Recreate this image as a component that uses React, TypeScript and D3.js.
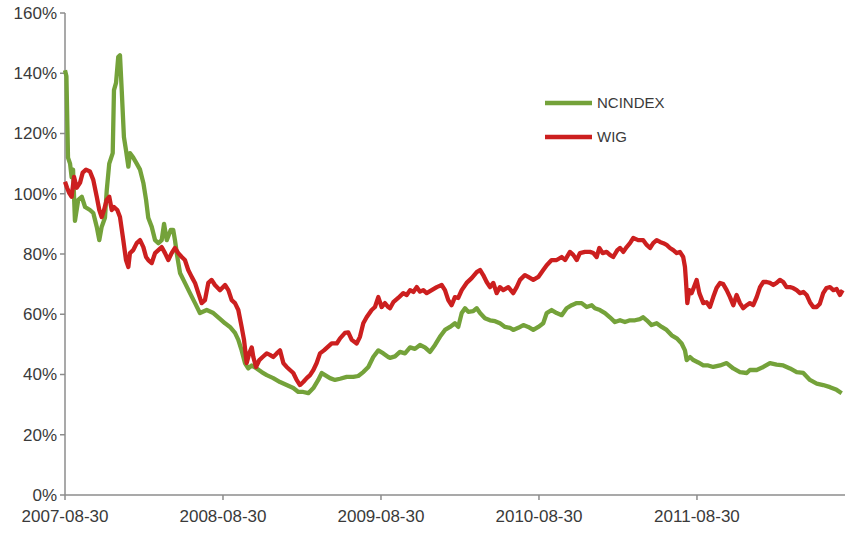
import React, { useEffect, useRef } from "react";
import * as d3 from "d3";

// x values: years since 2007-08-30
const tickLabels = ["2007-08-30", "2008-08-30", "2009-08-30", "2010-08-30", "2011-08-30"];
const yTicks = [0, 20, 40, 60, 80, 100, 120, 140, 160];
const seriesNames = ["NCINDEX", "WIG"];

const ncT = [0,0.009,0.019,0.032,0.042,0.051,0.063,0.084,0.106,0.127,0.158,0.179,0.201,0.217,0.232,0.253,0.264,0.280,0.302,0.310,0.323,0.337,0.348,0.359,0.373,0.386,0.401,0.411,0.432,0.454,0.475,0.496,0.513,0.527,0.549,0.570,0.591,0.612,0.627,0.644,0.669,0.685,0.696,0.711,0.728,0.759,0.791,0.823,0.854,0.897,0.939,0.981,1.013,1.044,1.076,1.097,1.118,1.139,1.160,1.182,1.213,1.245,1.277,1.318,1.361,1.403,1.445,1.477,1.508,1.540,1.572,1.603,1.625,1.646,1.677,1.709,1.741,1.783,1.825,1.856,1.888,1.920,1.951,1.983,2.015,2.046,2.057,2.089,2.120,2.152,2.184,2.215,2.247,2.278,2.310,2.342,2.373,2.405,2.437,2.468,2.489,2.511,2.532,2.553,2.584,2.606,2.627,2.658,2.690,2.722,2.753,2.785,2.816,2.837,2.869,2.901,2.932,2.964,2.996,3.027,3.049,3.080,3.112,3.144,3.175,3.207,3.239,3.270,3.302,3.334,3.354,3.386,3.418,3.449,3.481,3.513,3.544,3.576,3.608,3.639,3.660,3.682,3.713,3.745,3.777,3.808,3.840,3.872,3.903,3.924,3.935,3.956,3.977,4.008,4.040,4.071,4.103,4.146,4.188,4.230,4.272,4.315,4.335,4.378,4.420,4.462,4.504,4.546,4.589,4.631,4.673,4.715,4.758,4.799,4.842,4.884,4.916];
const ncV = [141,139,112,110,105.5,108,91,98,99,95.6,94.6,93.6,89,84.6,89,92,101,110,113.5,134.4,136.8,145.4,146,134.4,118.8,114.5,109,113.5,112,110,108,103.6,98,92,89,84.6,83.6,84.6,90,84.6,88,88,84.6,79,73.7,70.4,67,63.7,60.4,61.4,60.4,58.5,57,55.8,53.8,51.5,48,43.8,42,43,42,40.8,39.8,38.8,37.5,36.5,35.5,34.2,34.2,33.8,35.5,38.2,40.5,39.8,38.8,38.2,38.6,39.2,39.2,39.5,40.8,42.5,45.8,48,47,45.8,45.5,46,47.5,47,49,48.5,49.8,49,47.5,49.8,52.5,54.8,55.8,57,55.8,60.4,62,60.8,61,62,60.4,58.7,58,57.7,57,55.8,55.5,54.8,55.5,56.4,55.8,54.8,55.8,57,60.4,61.4,60.4,59.7,62,63,63.7,63.7,62.4,63,62,61.4,60.4,59,57.4,58,57.4,58,58,58.4,59,58,56.4,57,55.8,54.8,53,52,50.3,48,44.8,45.8,44.8,44,43,43,42.5,43,43.8,42,40.8,40.5,41.5,41.5,42.5,43.8,43.3,43,42,40.8,40.5,38.2,37,36.5,35.8,34.9,33.8];

const wigT = [0,0.013,0.027,0.042,0.057,0.074,0.095,0.112,0.133,0.158,0.179,0.201,0.217,0.232,0.247,0.264,0.280,0.296,0.310,0.331,0.348,0.369,0.386,0.401,0.411,0.432,0.454,0.475,0.496,0.513,0.527,0.549,0.570,0.591,0.612,0.633,0.654,0.675,0.696,0.717,0.739,0.759,0.780,0.802,0.823,0.844,0.865,0.886,0.907,0.928,0.949,0.981,1.013,1.034,1.055,1.076,1.097,1.118,1.133,1.150,1.166,1.182,1.192,1.209,1.230,1.251,1.277,1.297,1.318,1.340,1.361,1.382,1.403,1.424,1.445,1.466,1.487,1.508,1.530,1.551,1.572,1.593,1.614,1.639,1.660,1.688,1.720,1.741,1.772,1.793,1.815,1.846,1.867,1.888,1.909,1.941,1.962,1.983,2.004,2.025,2.046,2.057,2.078,2.109,2.141,2.163,2.184,2.205,2.226,2.247,2.268,2.289,2.321,2.353,2.384,2.405,2.426,2.447,2.468,2.489,2.511,2.542,2.574,2.606,2.627,2.647,2.669,2.690,2.711,2.732,2.753,2.774,2.806,2.837,2.859,2.880,2.911,2.932,2.964,2.996,3.027,3.049,3.080,3.112,3.144,3.165,3.196,3.217,3.239,3.259,3.291,3.323,3.344,3.365,3.382,3.403,3.428,3.449,3.470,3.496,3.513,3.534,3.555,3.576,3.597,3.628,3.660,3.682,3.703,3.723,3.745,3.766,3.787,3.808,3.829,3.850,3.872,3.892,3.913,3.924,3.930,3.939,3.951,3.966,3.981,3.998,4.015,4.040,4.061,4.082,4.103,4.124,4.146,4.166,4.188,4.209,4.230,4.251,4.272,4.293,4.315,4.335,4.356,4.378,4.399,4.420,4.441,4.462,4.483,4.504,4.525,4.546,4.567,4.589,4.609,4.631,4.652,4.673,4.694,4.715,4.736,4.758,4.778,4.799,4.820,4.842,4.863,4.884,4.905,4.922];
const wigV = [104,102,100.2,99,105.6,102,103.6,107,108,107.4,104.6,99,94.6,92.3,94.6,98,99,94.6,95.6,94.6,92.3,84.6,78,75.7,80.3,81.3,83.6,84.6,82.3,79,78,77,80.3,81.3,82.3,80.3,78,80.3,82,80.3,79,78,74.7,72.4,70.4,67,63.7,64.7,70.4,71.4,69.7,68,69.7,68,64.7,63.7,61.4,55.8,51.5,43.8,47,49,45.8,42.5,44.8,45.8,47,46.5,45.8,47,48,43.8,42.5,41.5,40.5,38.2,36.5,37.5,38.8,39.8,41.5,43.8,47,48,49,50.3,50.3,52,53.8,54,51.5,50.3,52.5,57,59,61.4,62.4,65.7,62.4,63.7,62.4,62,64,65.4,67,66.4,68,67.4,69,67.5,68,67,68,69,69.7,68,64.7,63,65.7,65.4,68,70.4,72,74,74.7,73,70.7,69,70.4,67,69,68,69,67,69,71.4,73,72.4,71.4,72.4,74.7,76.3,78,78,79,78,80.7,79.7,78,80.3,80.7,80.7,80.3,79,82,80.3,80.7,79.7,79,81.3,82,80.7,82.3,83.6,85.3,84.6,84.6,83,82,83.6,84.6,84,83.6,83,82,81.3,80.3,80.7,79,75.7,71.4,63.7,68,67,69,71.4,67,63.7,64,62.4,65.7,68.7,70.4,70,68,65.7,63,66.4,63.7,62,63,63.7,63,65.7,69,70.7,70.7,70.4,69.7,70.4,71.4,70.7,69,69,68.7,68,67,67.4,66.4,64,62.4,62.4,63.5,67,68.7,69,68,68.4,66.4,68];

const colors = ["#74a23a", "#cc1f1f"];

export default function App() {
  const ref = useRef<SVGSVGElement>(null);
  useEffect(() => {
    const svg = d3.select(ref.current);
    svg.selectAll("*").remove();
    const W = 849, H = 541;
    const x = d3.scaleLinear().domain([0, 4.937]).range([65, 845]);
    const y = d3.scaleLinear().domain([0, 160]).range([495, 13]);
    const font = "'Liberation Sans', Arial, sans-serif";
    const axisColor = "#8c8c8c";
    const textColor = "#3a3a3a";

    svg.append("rect").attr("width", W).attr("height", H).attr("fill", "#fff");

    // y axis
    svg.append("line").attr("x1", 65).attr("x2", 65).attr("y1", y(160)).attr("y2", y(0))
      .attr("stroke", axisColor).attr("stroke-width", 1.5);
    yTicks.forEach((v) => {
      svg.append("line").attr("x1", 60).attr("x2", 65).attr("y1", y(v)).attr("y2", y(v))
        .attr("stroke", axisColor).attr("stroke-width", 1.5);
      svg.append("text").attr("x", 57).attr("y", y(v)).attr("dy", "0.35em")
        .attr("text-anchor", "end").attr("font-family", font).attr("font-size", 17)
        .attr("fill", textColor).text(`${v}%`);
    });
    // x axis
    svg.append("line").attr("x1", x(0)).attr("x2", x(4.937)).attr("y1", y(0)).attr("y2", y(0))
      .attr("stroke", axisColor).attr("stroke-width", 1.5);
    tickLabels.forEach((lab, i) => {
      svg.append("line").attr("x1", x(i)).attr("x2", x(i)).attr("y1", y(0)).attr("y2", y(0) + 5)
        .attr("stroke", axisColor).attr("stroke-width", 1.5);
      svg.append("text").attr("x", x(i)).attr("y", 522).attr("text-anchor", "middle")
        .attr("font-family", font).attr("font-size", 17).attr("fill", textColor).text(lab);
    });

    const line = d3.line<[number, number]>().x((d) => x(d[0])).y((d) => y(d[1]));
    const series: [number, number][][] = [
      ncT.map((t, i) => [t, ncV[i]]),
      wigT.map((t, i) => [t, wigV[i]]),
    ];
    series.forEach((s, i) => {
      svg.append("path").datum(s).attr("d", line as any).attr("fill", "none")
        .attr("stroke", colors[i]).attr("stroke-width", 4.3).attr("stroke-linejoin", "round");
    });

    // legend
    seriesNames.forEach((n, i) => {
      const ly = 103 + i * 34;
      svg.append("line").attr("x1", 545).attr("x2", 592).attr("y1", ly).attr("y2", ly)
        .attr("stroke", colors[i]).attr("stroke-width", 4.3);
      svg.append("text").attr("x", 597).attr("y", ly).attr("dy", "0.36em")
        .attr("font-family", font).attr("font-size", 15).attr("fill", textColor).text(n);
    });
  }, []);
  return (
    <svg ref={ref} width={849} height={541}
      style={{ position: "absolute", left: 0, top: 0, display: "block" }} />
  );
}
